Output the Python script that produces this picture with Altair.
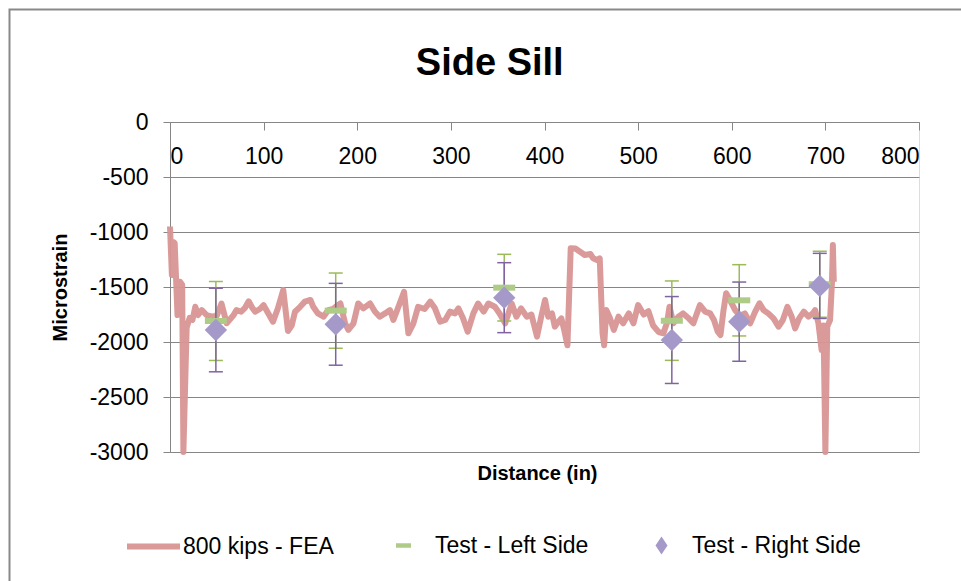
import altair as alt
import pandas as pd

# ---------------- data ----------------
fea_x = [0, 2, 3.5, 5, 8, 10.7, 13, 14.3, 17.8, 21, 24, 27, 30, 34, 39, 45, 50, 55, 60.5,
         68, 71, 76, 80, 84, 88, 91, 96, 100, 105, 110, 115, 121, 126, 130, 133.5, 139,
         144, 150, 153, 158, 164, 169, 174, 177, 182, 187, 190.5, 196, 201, 206.5, 213.7,
         219, 224, 229.7, 235, 238.6, 244, 250, 254.6, 260, 265, 272, 278, 283, 288.5,
         294, 299, 304.5, 308, 313, 318, 324, 329, 335, 340, 347, 352, 358, 365, 370, 375,
         381, 386, 392, 397, 400.6, 404, 408, 411, 415, 418, 421, 424.5, 428, 433, 438,
         443, 449, 452, 456, 459, 462, 463.7, 466, 470, 474, 479, 484, 490, 495, 500, 506,
         511, 516, 522, 527, 531, 533.5, 537.7, 543, 548, 554, 559, 566, 571.6, 577, 581,
         585, 588, 591, 594, 598, 603.6, 609, 614, 619.7, 625, 629.6, 634, 639, 644.6, 650,
         654.6, 659.5, 664, 667.7, 672, 677, 682, 686.6, 689, 692.6, 696, 698, 700, 702,
         705, 707, 708, 709]
fea_y = [-950, -1390, -1090, -1100, -1755, -1452, -1480, -3000, -1870, -1780, -1800, -1680,
         -1755, -1710, -1755, -1770, -1760, -1650, -1830, -1755, -1710, -1725, -1690, -1630,
         -1690, -1725, -1700, -1665, -1740, -1815, -1700, -1527, -1900, -1850, -1725, -1680,
         -1633, -1618, -1680, -1740, -1770, -1710, -1700, -1680, -1650, -1830, -1890, -1830,
         -1650, -1695, -1650, -1725, -1770, -1740, -1710, -1800, -1680, -1543, -1921, -1830,
         -1680, -1700, -1633, -1694, -1815, -1800, -1724, -1740, -1694, -1785, -1906, -1740,
         -1650, -1724, -1650, -1680, -1740, -1830, -1650, -1770, -1694, -1770, -1750, -1951,
         -1750, -1618, -1770, -1740, -1860, -1815, -1785, -1890, -2030, -1148, -1150, -1180,
         -1209, -1200, -1239, -1255, -1239, -1921, -2030, -1710, -1785, -1890, -1770, -1830,
         -1740, -1830, -1664, -1750, -1720, -1850, -1910, -1921, -1820, -1680, -1830, -1770,
         -1740, -1785, -1830, -1664, -1724, -1740, -1800, -1906, -1936, -1724, -1557, -1618,
         -1710, -1760, -1740, -1830, -1724, -1648, -1710, -1740, -1785, -1860, -1800, -1680,
         -1770, -1876, -1785, -1724, -1770, -1740, -1710, -1830, -2073, -1850, -3000, -1860,
         -1800, -1467, -1118, -1452]

test_x = [49, 177, 357, 536, 608, 694]
left_val = [-1809, -1715, -1506, -1806, -1621, -1475]
left_err = [359, 342, 303, 361, 324, 300]
right_val = [-1891, -1839, -1597, -1982, -1815, -1490]
right_err = [380, 372, 318, 395, 360, 296]

x_ticks = [0, 100, 200, 300, 400, 500, 600, 700, 800]
y_ticks = [0, -500, -1000, -1500, -2000, -2500, -3000]

FEA = "800 kips - FEA"
LEFT = "Test - Left Side"
RIGHT = "Test - Right Side"

fea = pd.DataFrame({"x": fea_x, "y": fea_y, "series": FEA})
left = pd.DataFrame({"x": test_x, "y": left_val, "series": LEFT})
left["lo"] = left["y"] - pd.Series(left_err)
left["hi"] = left["y"] + pd.Series(left_err)
right = pd.DataFrame({"x": test_x, "y": right_val, "series": RIGHT})
right["lo"] = right["y"] - pd.Series(right_err)
right["hi"] = right["y"] + pd.Series(right_err)

# ---------------- styling ----------------
FONT = "Liberation Sans"
W, H = 749, 330
GRID = "#868686"

x_scale = alt.Scale(domain=[0, 800], nice=False, zero=False)
y_scale = alt.Scale(domain=[-3000, 0], nice=False, zero=False)

x_axis = alt.Axis(orient="bottom", offset=-H, values=x_ticks, grid=False,
                  tickSize=8, tickColor=GRID, domainColor=GRID, labelPadding=15,
                  labelFontSize=23, labelColor="black", labelFont=FONT,
                  title="Distance (in)", titleX=367, titleY=341, titleBaseline="top",
                  titleFontSize=20, titleFontWeight="bold", titleFont=FONT, titleColor="black")
y_axis = alt.Axis(values=y_ticks, labelExpr="'' + datum.value", grid=True, gridColor=GRID,
                  tickSize=7, tickColor=GRID, domainColor=GRID, labelPadding=15,
                  labelFontSize=23, labelColor="black", labelFont=FONT,
                  title="Microstrain", titleX=-100, titleY=H / 2,
                  titleFontSize=20, titleFontWeight="bold", titleFont=FONT, titleColor="black")

X = alt.X("x:Q", scale=x_scale, axis=x_axis)

def Y(field):
    return alt.Y(field, type="quantitative", scale=y_scale, axis=y_axis)

leg_common = dict(title=None, orient="none", labelFontSize=23, labelFont=FONT,
                  labelColor="black", labelLimit=400)

# outer chart frame (decoration)
frame = alt.Chart(pd.DataFrame({"a": [0]})).mark_rect(
    fillOpacity=0, stroke="#898989", strokeWidth=2
).encode(x=alt.value(-160.5), x2=alt.value(810), y=alt.value(-112.5), y2=alt.value(480))

line = alt.Chart(fea).mark_line(strokeWidth=6, strokeJoin="round", opacity=0.95).encode(
    x=X, y=Y("y"),
    color=alt.Color("series:N", scale=alt.Scale(domain=[FEA], range=["#D89593"]),
                    legend=alt.Legend(legendX=-46, legendY=395, symbolType="stroke",
                                      symbolSize=2809, symbolStrokeWidth=6, labelOffset=0,
                                      **leg_common)),
)

GREEN = "#9BBB59"
PURPLE = "#8064A2"

def errbar(df, col):
    rule = alt.Chart(df).mark_rule(color=col, strokeWidth=1.5).encode(
        x=X, y=Y("lo"), y2="hi")
    cap_lo = alt.Chart(df).mark_tick(color=col, orient="horizontal", size=14,
                                     thickness=1.5, opacity=1).encode(x=X, y=Y("lo"))
    cap_hi = alt.Chart(df).mark_tick(color=col, orient="horizontal", size=14,
                                     thickness=1.5, opacity=1).encode(x=X, y=Y("hi"))
    return [rule, cap_lo, cap_hi]

left_mark = alt.Chart(left).mark_tick(orient="horizontal", size=22, thickness=6,
                                      opacity=1).encode(
    x=X, y=Y("y"),
    color=alt.Color("series:N", scale=alt.Scale(domain=[LEFT], range=["#AECB88"]),
                    legend=alt.Legend(legendX=222, legendY=412,
                                      symbolType="M-1,-0.3L1,-0.3L1,0.3L-1,0.3Z",
                                      symbolSize=225, symbolStrokeWidth=0,
                                      labelOffset=20, **leg_common)),
)

right_mark = alt.Chart(right).mark_point(shape="diamond", filled=True, size=500,
                                         opacity=1).encode(
    x=X, y=Y("y"),
    color=alt.Color("series:N", scale=alt.Scale(domain=[RIGHT], range=["#A599C9"]),
                    legend=alt.Legend(legendX=480, legendY=412,
                                      symbolType="M0,-1.5L1,0L0,1.5L-1,0Z",
                                      symbolSize=144, symbolStrokeWidth=0,
                                      labelOffset=19, **leg_common)),
)

layers = [frame, line] + errbar(left, GREEN) + errbar(right, PURPLE) + [left_mark, right_mark]

chart = alt.layer(*layers).resolve_scale(color="independent").properties(
    width=W, height=H,
    padding={"left": 170, "top": 122, "right": 42, "bottom": 129},
    autosize=alt.AutoSizeParams(type="none"),
    title=alt.Title("Side Sill", fontSize=38, font=FONT, fontWeight="bold",
                    anchor="middle", frame="bounds", color="black",
                    baseline="alphabetic", offset=-104, dx=-5),
).configure_view(strokeWidth=0).configure(font=FONT, background="white")

chart.save("out.html", embed_options={"renderer": "svg", "actions": False})
